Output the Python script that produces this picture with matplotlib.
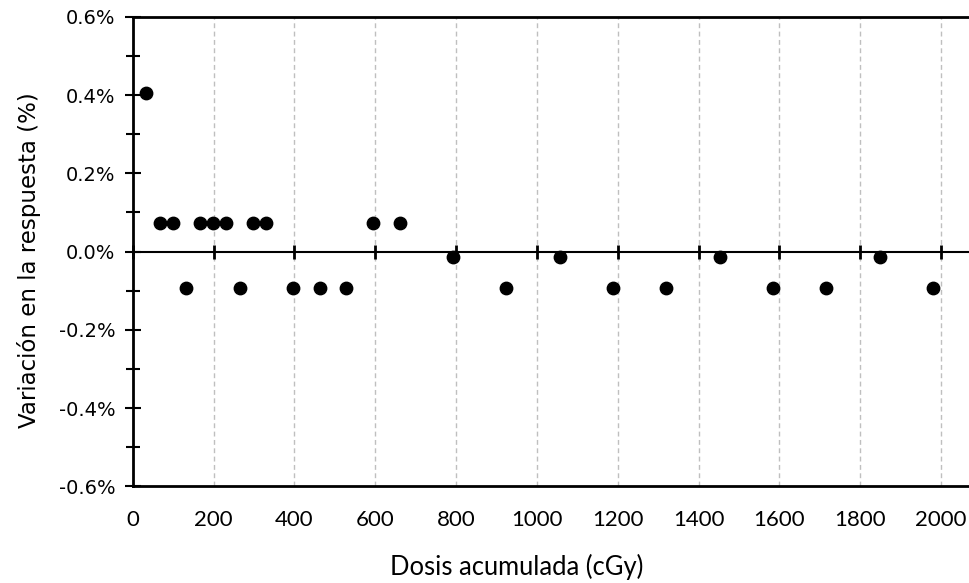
import matplotlib.pyplot as plt
from matplotlib.ticker import MultipleLocator, FuncFormatter

# dosis acumulada (cGy) y variacion de la respuesta (%)
dosis = [33, 66, 99, 132, 165, 198, 231, 264, 297, 330,
         396, 462, 528, 594, 660, 792, 924, 1056, 1188, 1320,
         1452, 1584, 1716, 1848, 1980]
variacion = [0.406, 0.073, 0.073, -0.094, 0.073, 0.073, 0.073, -0.094, 0.073, 0.073,
             -0.094, -0.094, -0.094, 0.073, 0.073, -0.013, -0.094, -0.013, -0.094, -0.094,
             -0.013, -0.094, -0.094, -0.013, -0.094]

x_ticks = list(range(0, 2001, 200))

fig = plt.figure(figsize=(9.7, 5.83), dpi=100)
ax = fig.add_axes([0.137, 0.166, 0.863, 0.805])

ax.scatter(dosis, variacion, s=80, color='black', zorder=5, clip_on=False)

ax.set_xlim(0, 2072)
ax.set_ylim(-0.6, 0.6)

ax.set_xticks(x_ticks)
ax.yaxis.set_major_locator(MultipleLocator(0.2))
ax.yaxis.set_minor_locator(MultipleLocator(0.1))
ax.yaxis.set_major_formatter(FuncFormatter(lambda v, p: '%.1f%%' % v))

for lbl in ax.get_xticklabels():
    lbl.set_family('Lato')

ax.tick_params(axis='x', length=0, pad=17, labelsize=16)
ax.tick_params(axis='y', which='major', direction='inout', length=11, width=1.5,
               pad=7, labelsize=14)
ax.tick_params(axis='y', which='minor', direction='inout', length=10, width=1.5)

ax.spines['right'].set_visible(False)
for s in ['top', 'bottom', 'left']:
    ax.spines[s].set_linewidth(2)

ax.grid(axis='x', linestyle=(0, (3.5, 2.5)), color='#bfbfbf', linewidth=1, zorder=0)
ax.set_axisbelow(True)

# eje en y = 0 con marcas de graduacion
sec = ax.secondary_xaxis(0.5)
sec.set_zorder(4)
sec.set_xticks(x_ticks)
sec.tick_params(direction='inout', length=10, width=2, labeltop=False, labelbottom=False)
for s in sec.spines.values():
    s.set_linewidth(1.5)

ax.set_xlabel('Dosis acumulada (cGy)', family='Lato', fontsize=18.4)
ax.set_ylabel('Variación en la respuesta (%)', fontsize=16.5)
ax.xaxis.set_label_coords((517 - 133) / 837, -(567 - 486) / 469.3)
ax.yaxis.set_label_coords(-(133 - 29) / 837, (486 - 260) / 469.3)
ax.xaxis.label.set_va('center')
ax.yaxis.label.set_va('center')

fig.savefig('out.png', dpi=100)
